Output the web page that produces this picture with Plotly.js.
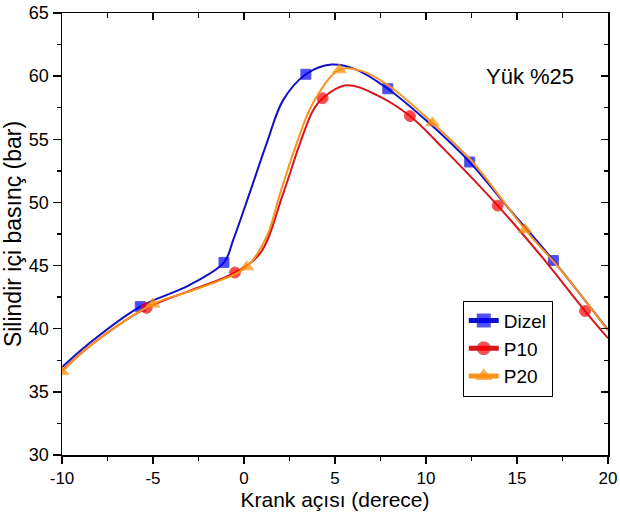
<!DOCTYPE html>
<html>
<head>
<meta charset="utf-8">
<script src="https://cdn.plot.ly/plotly-3.0.1.min.js"></script>
<style>html,body{margin:0;padding:0;background:#fff;}#chart{width:620px;height:513px;}</style>
</head>
<body>
<div id="chart"></div>
<script>
// Dizel
const dizelX = [-10, -8.5, -5.7, -3, -1.1, -0.6, 0.3, 1.25, 2.15, 3.4, 4.8, 6.2, 7.9, 10, 12.4, 14.5, 17.0, 20];
const dizelY = [36.95, 38.85, 41.75, 43.45, 45.25, 47.0, 50.7, 54.7, 58.1, 60.15, 60.92, 60.5, 59.0, 56.5, 53.2, 49.6, 45.4, 39.9];
const dizelMarkX = [-5.7, -1.1, 3.4, 7.9, 12.4, 17.0];
// P10
const p10X = [-10, -8.5, -5.35, -3, -0.5, 0.9, 2.15, 3.08, 3.8, 4.32, 5.6, 7.3, 9.12, 11, 13.94, 16.3, 18.74, 20];
const p10Y = [36.65, 38.6, 41.65, 43.0, 44.45, 46.0, 50.7, 54.7, 57.3, 58.25, 59.28, 58.5, 56.84, 54.2, 49.75, 45.8, 41.4, 39.25];
const p10MarkX = [-5.35, -0.5, 4.32, 9.12, 13.94, 18.74];
// P20
const p20X = [-10, -8.5, -5.0, -3, -1, 0.15, 1.25, 1.98, 2.9, 3.8, 5.24, 6.5, 8, 10.35, 12.5, 15.45, 17.5, 20];
const p20Y = [36.6, 38.6, 41.95, 42.95, 44.0, 44.9, 47.3, 50.7, 54.7, 57.9, 60.5, 60.4, 59.2, 56.3, 53.3, 47.85, 44.5, 39.85];
const p20MarkX = [-10, -5.0, 0.15, 5.24, 10.35, 15.45];

const seriesNames = ['Dizel', 'P10', 'P20'];
const xTickVals = [-10, -5, 0, 5, 10, 15, 20];
const xTickText = ['-10', '-5', '0', '5', '10', '15', '20'];
const yTickVals = [30, 35, 40, 45, 50, 55, 60, 65];
const yTickText = ['30', '35', '40', '45', '50', '55', '60', '65'];

function sizes(xs, marks, s) { return xs.map(v => marks.includes(v) ? s : 0); }

const font = 'Liberation Sans, Arial, sans-serif';

const traces = [
  {x: dizelX, y: dizelY, name: seriesNames[0], mode: 'lines+markers', line: {shape: 'spline', smoothing: 1, color: '#1010c8', width: 2},
   marker: {symbol: 'square', color: '#0000ff', size: sizes(dizelX, dizelMarkX, 10)}},
  {x: p10X, y: p10Y, name: seriesNames[1], mode: 'lines+markers', line: {shape: 'spline', smoothing: 1, color: '#d8161c', width: 2},
   marker: {symbol: 'circle', color: '#ff0000', size: sizes(p10X, p10MarkX, 11)}},
  {x: p20X, y: p20Y, name: seriesNames[2], mode: 'lines+markers', line: {shape: 'spline', smoothing: 1, color: '#f7941d', width: 2},
   marker: {symbol: 'triangle-up', color: '#ff8c00', size: sizes(p20X, p20MarkX, 12)}}
];

const tickCommon = {tickwidth: 1.5, tickcolor: '#000', showline: true, linecolor: '#000', linewidth: 1.5, showgrid: false, zeroline: false};

const layout = {
  width: 620, height: 513,
  margin: {l: 62, r: 12, t: 13, b: 58},
  paper_bgcolor: '#fff', plot_bgcolor: '#fff',
  font: {family: font, size: 17, color: '#000'},
  showlegend: true,
  legend: {x: 0.734, y: 0.349, xanchor: 'left', yanchor: 'top', bordercolor: '#000', borderwidth: 1,
           bgcolor: '#fff', font: {family: font, size: 19}, itemsizing: 'constant', tracegroupgap: 0},
  xaxis: Object.assign({range: [-10, 20], tickmode: 'array', tickvals: xTickVals, ticktext: xTickText, ticks: 'outside', ticklen: 7,
          minor: {dtick: 2.5, ticks: 'outside', ticklen: 4, tickwidth: 1.5, tickcolor: '#000', showgrid: false},
          tickfont: {size: 17}, title: {text: 'Krank açısı (derece)', font: {size: 21}, standoff: 3}}, tickCommon),
  yaxis: Object.assign({range: [30, 65], tickmode: 'array', tickvals: yTickVals, ticktext: yTickText, ticks: 'outside', ticklen: 8,
          minor: {dtick: 2.5, ticks: 'outside', ticklen: 4, tickwidth: 1.5, tickcolor: '#000', showgrid: false},
          tickfont: {size: 18}, title: {text: 'Silindir içi basınç (bar)', font: {size: 23}, standoff: 1}}, tickCommon),
  xaxis2: Object.assign({range: [-10, 20], overlaying: 'x', side: 'top', anchor: 'y', tickmode: 'array', tickvals: xTickVals, ticks: 'inside', ticklen: 7,
           showticklabels: false,
           minor: {dtick: 2.5, ticks: 'inside', ticklen: 5, tickwidth: 1.5, tickcolor: '#000', showgrid: false}}, tickCommon),
  yaxis2: Object.assign({range: [30, 65], overlaying: 'y', side: 'right', anchor: 'x', tickmode: 'array', tickvals: yTickVals, ticks: 'inside', ticklen: 7,
           showticklabels: false,
           minor: {dtick: 2.5, ticks: 'inside', ticklen: 4, tickwidth: 1.5, tickcolor: '#000', showgrid: false}}, tickCommon),
  annotations: [{x: 15.7, y: 60.0, xref: 'x', yref: 'y', text: 'Yük %25', showarrow: false, font: {family: font, size: 22, color: '#000'}}]
};

traces.push({x: [-10, 20], y: [30, 65], xaxis: 'x2', yaxis: 'y2', mode: 'markers', marker: {opacity: 0}, showlegend: false, hoverinfo: 'skip'});

Plotly.newPlot('chart', traces, layout, {displayModeBar: false, staticPlot: true});
</script>
</body>
</html>
